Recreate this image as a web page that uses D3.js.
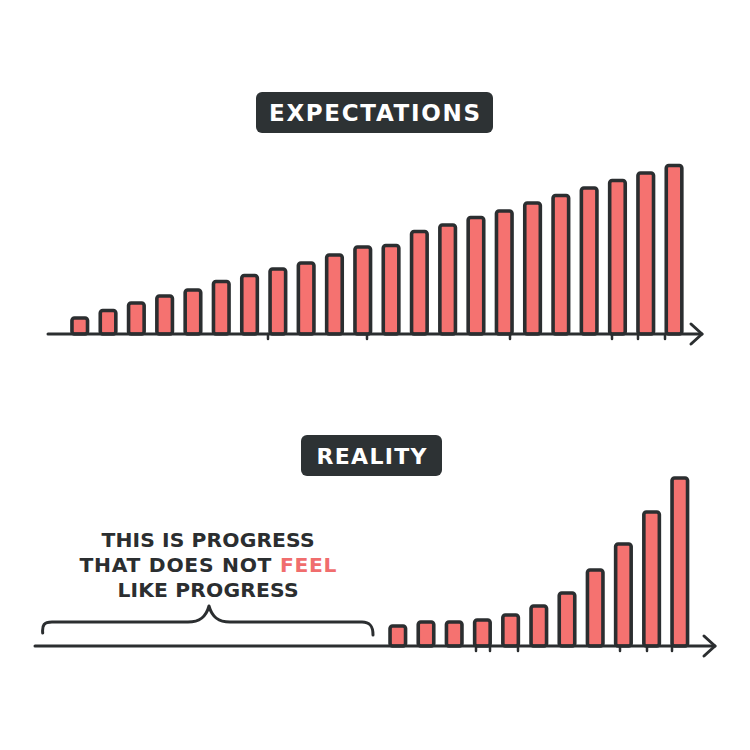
<!DOCTYPE html>
<html><head><meta charset="utf-8">
<script src="https://cdn.jsdelivr.net/npm/d3@7"></script>
<style>body{margin:0;background:#fff}svg{display:block}</style>
</head><body>
<script>
// ---- data ----
const expectationBars = d3.range(1, 23).map(String);
const expectationValues = [16, 23.5, 31, 38, 44, 52.5, 58.5, 65, 71, 79, 87, 88.5, 102.5, 109, 116.5, 123, 131, 138.5, 146, 153.5, 161, 168.5];
const realityBars = d3.range(1, 12).map(String);
const realityValues = [20, 24, 24, 26, 31, 40, 53, 76, 102, 134, 168];
const titles = ["EXPECTATIONS", "REALITY"];
const noteLines = [["THIS IS PROGRESS"], ["THAT DOES NOT ", "FEEL"], ["LIKE PROGRESS"]];
const topStrayTicks = [268, 367, 510, 612, 638, 665];
const bottomStrayTicks = [476, 490, 518, 620, 647, 672];

const W = 750, H = 750;
const ink = "#2b2e30", barFill = "#f57270", accent = "#f06d6d";
const font = "'DejaVu Sans', sans-serif";

const svg = d3.select("body").append("svg").attr("width", W).attr("height", H);
svg.append("rect").attr("width", W).attr("height", H).attr("fill", "#fff");

function title(text, cx, y0, y1, boxW, textW, fs) {
  const g = svg.append("g");
  g.append("rect").attr("x", cx - boxW / 2).attr("y", y0).attr("width", boxW).attr("height", y1 - y0)
    .attr("rx", 6).attr("fill", "#2d3234");
  g.append("text").attr("x", cx).attr("y", y1 - (y1 - y0 - fs * 0.73) / 2)
    .attr("text-anchor", "middle").attr("fill", "#fff")
    .attr("font-family", font).attr("font-weight", 700)
    .attr("font-size", fs).attr("textLength", textW).attr("lengthAdjust", "spacing")
    .text(text);
}

function chart(cats, vals, x0, x1, baseY, axisX0, axisX1, stray) {
  const x = d3.scaleBand().domain(cats).range([x0, x1]).paddingInner(0.45).paddingOuter(0.225);
  const y = d3.scaleLinear().domain([0, 180]).range([baseY, baseY - 180]);
  const g = svg.append("g");
  g.selectAll("line.st").data(stray).join("line")
    .attr("x1", d => d).attr("x2", d => d).attr("y1", baseY).attr("y2", baseY + 5)
    .attr("stroke", ink).attr("stroke-width", 2.5).attr("stroke-linecap", "round");
  g.selectAll("rect.bar").data(vals).join("rect")
    .attr("x", (d, i) => x(cats[i])).attr("width", x.bandwidth())
    .attr("y", d => y(d)).attr("height", d => y(0) - y(d))
    .attr("rx", 2.5)
    .attr("fill", barFill).attr("stroke", ink).attr("stroke-width", 3.6)
    .attr("stroke-linejoin", "round");
  g.append("line").attr("x1", axisX0).attr("x2", axisX1).attr("y1", baseY).attr("y2", baseY)
    .attr("stroke", ink).attr("stroke-width", 3).attr("stroke-linecap", "round");
  g.append("path").attr("d", `M${axisX1 - 11},${baseY - 10} L${axisX1},${baseY} L${axisX1 - 11},${baseY + 10}`)
    .attr("fill", "none").attr("stroke", ink).attr("stroke-width", 3)
    .attr("stroke-linecap", "round").attr("stroke-linejoin", "round");
}

title(titles[0], 374.5, 92, 133, 237, 211, 23);
chart(expectationBars, expectationValues, 65.6, 688.2, 334, 48, 702, topStrayTicks);

title(titles[1], 371.5, 435, 476, 141, 110, 22);
chart(realityBars, realityValues, 383.7, 693.9, 646, 35, 715, bottomStrayTicks);

const lineW = [213, 257, 181];
const lineY = [547, 572, 597];
noteLines.forEach((parts, i) => {
  const t = svg.append("text").attr("x", 208).attr("y", lineY[i]).attr("text-anchor", "middle")
    .attr("font-family", font).attr("font-weight", 700).attr("font-size", 20.3)
    .attr("fill", ink).attr("textLength", lineW[i]).attr("lengthAdjust", "spacing");
  parts.forEach(p => {
    t.append("tspan").attr("fill", p === "FEEL" ? accent : ink).text(p);
  });
});

svg.append("path")
  .attr("d", "M42.7,633 C42,625 44,622 52,622 L188,622 C200,622 206,617 209,606 C212,617 218,622 230,622 L362,622 C370,622 373,626 373,635")
  .attr("fill", "none").attr("stroke", ink).attr("stroke-width", 3)
  .attr("stroke-linecap", "round").attr("stroke-linejoin", "round");
</script>
</body></html>
